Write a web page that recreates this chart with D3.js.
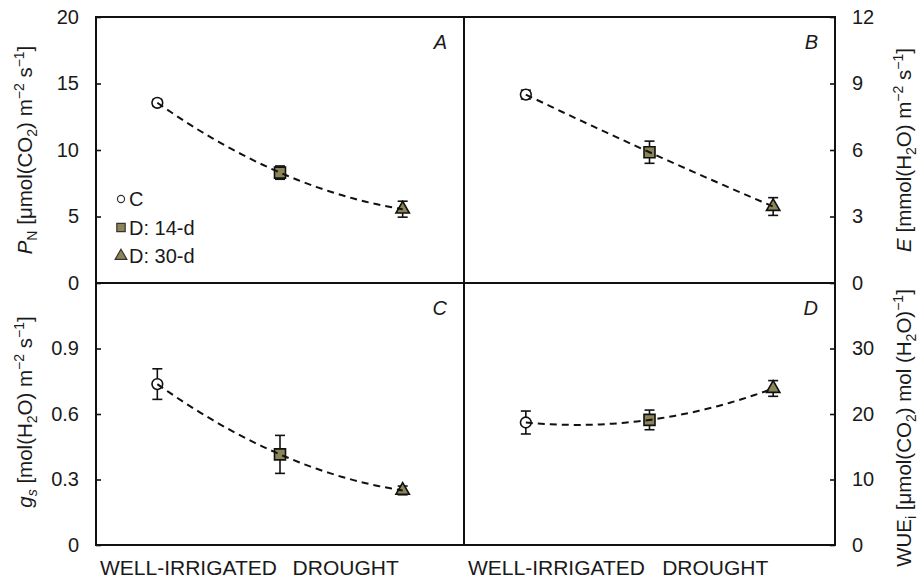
<!DOCTYPE html>
<html>
<head>
<meta charset="utf-8">
<script src="https://cdn.jsdelivr.net/npm/d3@7/dist/d3.min.js"></script>
<style>
  body { margin: 0; background: #fff; }
  text { font-family: "Liberation Sans", Arial, sans-serif; fill: #1a1a1a; }
</style>
</head>
<body>
<div id="chart"></div>
<script>
// groups and panel values (mean, error)
var groups = ['C', 'D: 14-d', 'D: 30-d'];
var xLabels = ['WELL-IRRIGATED', 'DROUGHT'];
var xLabelPos = [-0.5, 1.07];   // in group units, left edge of label

var pnMean = [13.55, 8.3, 5.55],  pnErr = [0.25, 0.5, 0.6];
var eMean = [8.5, 5.9, 3.45],     eErr = [0.2, 0.5, 0.4];
var gsMean = [0.737, 0.415, 0.25], gsErr = [0.07, 0.087, 0.02];
var wueMean = [18.7, 19.1, 23.9], wueErr = [1.75, 1.5, 1.2];

var pnTicks = [0, 5, 10, 15, 20];
var eTicks = [0, 3, 6, 9, 12];
var gsTicks = [0, 0.3, 0.6, 0.9];
var wueTicks = [0, 10, 20, 30];

var panelLetters = ['A', 'B', 'C', 'D'];

(function() {
  var width = 920, height = 579;
  var left = 96, mid = 464, right = 835;
  var topY = 17, midY = 283, bottom = 545;
  var olive = '#8b8557';

  var svg = d3.select('#chart').append('svg')
    .attr('width', width)
    .attr('height', height);

  // rich text helper: parts with sub / sup / italic
  function rich(sel, parts) {
    var cur = 0;
    parts.forEach(function(p) {
      var target = p.sub ? 5 : (p.sup ? -8 : 0);
      var t = sel.append('tspan').text(p.t).attr('dy', target - cur);
      cur = target;
      if (p.it) t.style('font-style', 'italic');
      if (p.sub || p.sup) t.attr('font-size', '14px');
    });
  }

  var panels = [
    { mean: pnMean, err: pnErr, ticks: pnTicks, max: 20, x0: left, x1: mid, y0: midY, y1: topY, side: 'left',
      title: [{t: 'P', it: 1}, {t: 'N', sub: 1}, {t: ' [μmol(CO'}, {t: '2', sub: 1}, {t: ') m'}, {t: '−2', sup: 1}, {t: ' s'}, {t: '−1', sup: 1}, {t: ']'}],
      titleX: 32, titleY: 150 },
    { mean: eMean, err: eErr, ticks: eTicks, max: 12, x0: mid, x1: right, y0: midY, y1: topY, side: 'right',
      title: [{t: 'E', it: 1}, {t: ' [mmol(H'}, {t: '2', sub: 1}, {t: 'O) m'}, {t: '−2', sup: 1}, {t: ' s'}, {t: '−1', sup: 1}, {t: ']'}],
      titleX: 911, titleY: 150 },
    { mean: gsMean, err: gsErr, ticks: gsTicks, max: 1.2, x0: left, x1: mid, y0: bottom, y1: midY, side: 'left',
      title: [{t: 'g', it: 1}, {t: 's', sub: 1, it: 1}, {t: ' [mol(H'}, {t: '2', sub: 1}, {t: 'O) m'}, {t: '−2', sup: 1}, {t: ' s'}, {t: '−1', sup: 1}, {t: ']'}],
      titleX: 32, titleY: 412 },
    { mean: wueMean, err: wueErr, ticks: wueTicks, max: 40, x0: mid, x1: right, y0: bottom, y1: midY, side: 'right',
      title: [{t: 'WUE'}, {t: 'i', sub: 1}, {t: ' [μmol(CO'}, {t: '2', sub: 1}, {t: ') mol (H'}, {t: '2', sub: 1}, {t: 'O)'}, {t: '−1', sup: 1}, {t: ']'}],
      titleX: 911, titleY: 428 }
  ];

  var symbols = [d3.symbolCircle, d3.symbolSquare, d3.symbolTriangle];
  var symSize = [90, 121, 78];
  var fills = ['#fff', olive, olive];

  var fmt = function(d) { return d === 0 ? '0' : (d < 1 ? d3.format('.1f')(d) : d3.format('d')(d)); };

  panels.forEach(function(p, pi) {
    var x = d3.scaleLinear().domain([-0.5, 2.5]).range([p.x0, p.x1]);
    var y = d3.scaleLinear().domain([0, p.max]).range([p.y0, p.y1]);
    var g = svg.append('g');

    // axis with inward ticks
    var axis = p.side === 'left' ? d3.axisLeft(y) : d3.axisRight(y);
    axis.tickValues(p.ticks).tickSizeInner(-5).tickSizeOuter(0).tickPadding(17).tickFormat(fmt);
    var ax = g.append('g')
      .attr('transform', 'translate(' + (p.side === 'left' ? p.x0 : p.x1) + ',0)')
      .call(axis);
    ax.select('.domain').remove();
    ax.selectAll('line').attr('stroke', '#111').attr('stroke-width', 1.6);
    ax.selectAll('text').attr('font-size', '20px').style('font-family', '"Liberation Sans", Arial, sans-serif').attr('fill', '#1a1a1a');

    // axis title
    var tt = svg.append('text')
      .attr('transform', 'translate(' + p.titleX + ',' + p.titleY + ') rotate(-90)')
      .attr('text-anchor', 'middle')
      .attr('font-size', '20.5px');
    rich(tt, p.title);

    // panel letter
    svg.append('text')
      .attr('x', p.x1 - 17)
      .attr('y', p.y1 + 32)
      .attr('text-anchor', 'end')
      .attr('font-size', '20px')
      .style('font-style', 'italic')
      .text(panelLetters[pi]);

    // error bars
    var eb = g.selectAll('.eb').data(p.mean).enter().append('g');
    eb.append('line')
      .attr('x1', function(d, i) { return x(i); })
      .attr('x2', function(d, i) { return x(i); })
      .attr('y1', function(d, i) { return y(d - p.err[i]); })
      .attr('y2', function(d, i) { return y(d + p.err[i]); });
    eb.append('line')
      .attr('x1', function(d, i) { return x(i) - 5; })
      .attr('x2', function(d, i) { return x(i) + 5; })
      .attr('y1', function(d, i) { return y(d - p.err[i]); })
      .attr('y2', function(d, i) { return y(d - p.err[i]); });
    eb.append('line')
      .attr('x1', function(d, i) { return x(i) - 5; })
      .attr('x2', function(d, i) { return x(i) + 5; })
      .attr('y1', function(d, i) { return y(d + p.err[i]); })
      .attr('y2', function(d, i) { return y(d + p.err[i]); });
    eb.selectAll('line').attr('stroke', '#111').attr('stroke-width', 1.6);

    // markers
    g.selectAll('.pt').data(p.mean).enter().append('path')
      .attr('d', function(d, i) { return d3.symbol().type(symbols[i]).size(symSize[i])(); })
      .attr('transform', function(d, i) { return 'translate(' + x(i) + ',' + y(d) + ')'; })
      .attr('fill', function(d, i) { return fills[i]; })
      .attr('stroke', '#111')
      .attr('stroke-width', 1.6);

    // dashed quadratic fit through the three means
    var m = p.mean;
    var quad = function(t) {
      return m[0] * (t - 1) * (t - 2) / 2 - m[1] * t * (t - 2) + m[2] * t * (t - 1) / 2;
    };
    var ts = d3.range(0, 2.0001, 0.05);
    g.append('path')
      .datum(ts)
      .attr('d', d3.line().x(function(t) { return x(t); }).y(function(t) { return y(quad(t)); }))
      .attr('fill', 'none')
      .attr('stroke', '#111')
      .attr('stroke-width', 2)
      .attr('stroke-dasharray', '7,5');

    // category labels under bottom panels
    if (p.y0 === bottom) {
      svg.selectAll(null).data(xLabels).enter().append('text')
        .attr('x', function(d, i) { return x(xLabelPos[i]) + 4; })
        .attr('y', 575)
        .attr('font-size', '21px')
        .text(function(d) { return d; });
    }
  });

  // frame lines
  var frame = svg.append('g').attr('stroke', '#111').attr('stroke-width', 2).attr('fill', 'none');
  frame.append('rect').attr('x', left).attr('y', topY).attr('width', right - left).attr('height', bottom - topY);
  frame.append('line').attr('x1', left).attr('x2', right).attr('y1', midY).attr('y2', midY);
  frame.append('line').attr('x1', mid).attr('x2', mid).attr('y1', topY).attr('y2', bottom);

  // legend in panel A
  var legend = svg.append('g').attr('transform', 'translate(' + (left + 25) + ',' + (topY + 182) + ')');
  var lg = legend.selectAll('g').data(groups).enter().append('g')
    .attr('transform', function(d, i) { return 'translate(0,' + (i * 28.5) + ')'; });
  lg.append('path')
    .attr('d', function(d, i) { return d3.symbol().type(symbols[i]).size([40, 70, 60][i])(); })
    .attr('fill', function(d, i) { return fills[i]; })
    .attr('stroke', '#333')
    .attr('stroke-width', 1.2);
  lg.append('text')
    .attr('x', 8)
    .attr('y', 7)
    .attr('font-size', '20px')
    .text(function(d) { return d; });
})();
</script>
</body>
</html>
